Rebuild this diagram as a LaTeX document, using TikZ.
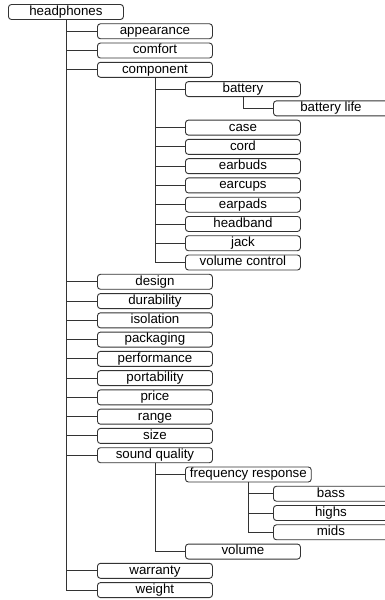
\documentclass[tikz,border=0pt]{standalone}
\usepackage{fontspec}
\setmainfont{Liberation Sans}
\begin{document}
\begin{tikzpicture}[x=1pt,y=-1pt,
  tbox/.style={draw=black!80, line width=0.9pt, rounded corners=3pt, anchor=west,
    minimum width=115pt, minimum height=15pt, inner xsep=4.5pt, inner ysep=0pt,
    text height=9.6pt, text depth=2.8pt, font=\fontsize{13.3}{14}\selectfont},
  link/.style={draw=black!80, line width=0.9pt}]
\useasboundingbox (0,0) rectangle (384,600);
\def\R#1{{12+19.27*#1}}
\node[tbox] (n0) at (8,\R{0}) {headphones};
\node[tbox] (n1) at (97,\R{1}) {appearance};
\node[tbox] (n2) at (97,\R{2}) {comfort};
\node[tbox] (n3) at (97,\R{3}) {component};
\node[tbox] (n4) at (185,\R{4}) {battery};
\node[tbox] (n5) at (273,\R{5}) {battery life};
\node[tbox] (n6) at (185,\R{6}) {case};
\node[tbox] (n7) at (185,\R{7}) {cord};
\node[tbox] (n8) at (185,\R{8}) {earbuds};
\node[tbox] (n9) at (185,\R{9}) {earcups};
\node[tbox] (n10) at (185,\R{10}) {earpads};
\node[tbox] (n11) at (185,\R{11}) {headband};
\node[tbox] (n12) at (185,\R{12}) {jack};
\node[tbox] (n13) at (185,\R{13}) {volume control};
\node[tbox] (n14) at (97,\R{14}) {design};
\node[tbox] (n15) at (97,\R{15}) {durability};
\node[tbox] (n16) at (97,\R{16}) {isolation};
\node[tbox] (n17) at (97,\R{17}) {packaging};
\node[tbox] (n18) at (97,\R{18}) {performance};
\node[tbox] (n19) at (97,\R{19}) {portability};
\node[tbox] (n20) at (97,\R{20}) {price};
\node[tbox] (n21) at (97,\R{21}) {range};
\node[tbox] (n22) at (97,\R{22}) {size};
\node[tbox] (n23) at (97,\R{23}) {sound quality};
\node[tbox] (n24) at (185,\R{24}) {frequency response};
\node[tbox] (n25) at (273,\R{25}) {bass};
\node[tbox] (n26) at (273,\R{26}) {highs};
\node[tbox] (n27) at (273,\R{27}) {mids};
\node[tbox] (n28) at (185,\R{28}) {volume};
\node[tbox] (n29) at (97,\R{29}) {warranty};
\node[tbox] (n30) at (97,\R{30}) {weight};
\foreach \c in {1,2,3,14,15,16,17,18,19,20,21,22,23,29,30}
  \draw[link] (n0.south) |- (n\c.west);
\foreach \c in {4,6,7,8,9,10,11,12,13}
  \draw[link] (n3.south) |- (n\c.west);
\draw[link] (n4.south) |- (n5.west);
\foreach \c in {24,28}
  \draw[link] (n23.south) |- (n\c.west);
\foreach \c in {25,26,27}
  \draw[link] (n24.south) |- (n\c.west);
\end{tikzpicture}
\end{document}
